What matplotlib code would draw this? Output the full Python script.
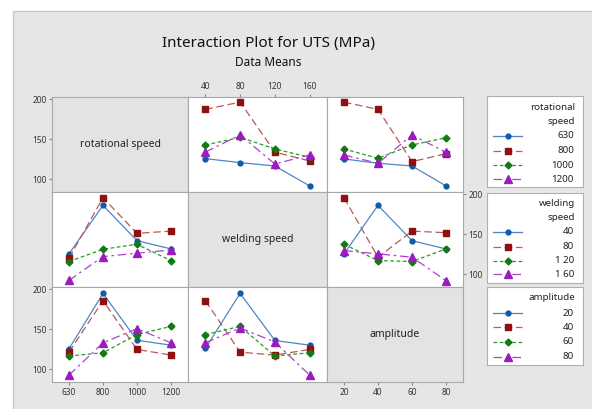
import numpy as np
import matplotlib.pyplot as plt
from matplotlib.patches import Rectangle

plt.rcParams['font.family'] = ['Noto Sans', 'DejaVu Sans']

# factor levels
rot_levels = ['630', '800', '1000', '1200']
weld_levels = ['40', '80', '120', '160']
amp_levels = ['20', '40', '60', '80']
factor_names = ['rotational speed', 'welding speed', 'amplitude']
legend_titles = ['rotational\nspeed', 'welding\nspeed', 'amplitude']
legend_labels = [rot_levels, ['40', '80', '1 20', '1 60'], amp_levels]

# UTS means: rows = line levels, cols = x-axis levels
rot_vs_weld = [[125.8, 120.8, 116.6, 91.6],
               [187.5, 196.6, 134.0, 122.9],
               [142.9, 152.5, 137.9, 127.5],
               [134.0, 155.4, 119.1, 130.4]]
rot_vs_amp = [[125.4, 120.0, 116.6, 91.6],
              [196.6, 187.5, 122.0, 132.0],
              [137.9, 126.2, 142.9, 152.0],
              [130.4, 120.0, 155.4, 133.8]]
weld_vs_rot = [[125.5, 186.3, 142.0, 131.7],
               [120.1, 195.9, 151.2, 154.0],
               [115.9, 131.3, 137.5, 117.1],
               [92.3, 122.1, 126.3, 130.4]]
weld_vs_amp = [[125.5, 186.3, 142.0, 131.7],
               [195.9, 121.3, 154.0, 152.0],
               [137.5, 117.1, 115.9, 131.7],
               [129.6, 125.5, 121.3, 92.0]]
amp_vs_rot = [[125.6, 195.0, 136.3, 130.1],
              [121.4, 185.9, 124.8, 117.7],
              [116.5, 120.7, 143.4, 153.7],
              [92.6, 133.1, 150.8, 133.1]]
amp_vs_weld = [[126.0, 195.0, 136.0, 130.1],
               [185.9, 121.4, 117.7, 124.8],
               [143.4, 153.7, 116.5, 120.7],
               [133.1, 151.7, 134.1, 92.6]]

panels = {(0, 1): rot_vs_weld, (0, 2): rot_vs_amp,
          (1, 0): weld_vs_rot, (1, 2): weld_vs_amp,
          (2, 0): amp_vs_rot, (2, 1): amp_vs_weld}

styles = [dict(color='#4f86c6', ls='-', marker='o', ms=3.5, mfc='#0f5aaa', mec='#0f5aaa'),
          dict(color='#b85a5a', ls=(0, (6, 3)), marker='s', ms=4, mfc='#900f0f', mec='#900f0f'),
          dict(color='#2a9a2a', ls=(0, (3, 2)), marker='D', ms=3.5, mfc='#127a12', mec='#127a12'),
          dict(color='#b040d0', ls=(0, (7, 3, 2, 3)), marker='^', ms=6, mfc='#9a1cbf', mec='#9a1cbf')]

W, H = 592, 409
fig = plt.figure(figsize=(W / 100, H / 100), dpi=100)
fig.patches.append(Rectangle((13 / W, -0.01), 1.0, 1 - 11 / H + 0.01, transform=fig.transFigure,
                             facecolor='#e6e6e6', edgecolor='#c8c8c8', lw=1, zorder=-10))


def px_axes(x0, y0, x1, y1):
    return fig.add_axes([x0 / W, 1 - y1 / H, (x1 - x0) / W, (y1 - y0) / H])


col_x = [52, 188, 327, 463]
row_y = [97, 192, 287, 382]
ylim = (84, 203)
x = np.arange(4)
tick_kw = dict(labelsize=6, length=2.5, color='#888888', labelcolor='#333333', pad=1.5)

axes = {}
for i in range(3):
    for j in range(3):
        ax = px_axes(col_x[j], row_y[i], col_x[j + 1], row_y[i + 1])
        ax.set_xlim(-0.5, 3.5)
        ax.set_ylim(*ylim)
        for s in ax.spines.values():
            s.set_color('#a8a8a8')
            s.set_linewidth(0.8)
        ax.tick_params(left=False, bottom=False, labelleft=False, labelbottom=False, **tick_kw)
        ax.set_yticks([100, 150, 200])
        if i == j:
            ax.set_facecolor('#e3e3e3')
            ax.text(0.5, 0.5, factor_names[i], transform=ax.transAxes, ha='center', va='center',
                    fontsize=7.5, color='#222222')
        else:
            ax.set_facecolor('white')
            for k, vals in enumerate(panels[(i, j)]):
                ax.plot(x, vals, lw=0.9, **styles[k])
        axes[(i, j)] = ax

# axis ticks, alternating like Minitab
axes[(0, 0)].tick_params(left=True, labelleft=True)
axes[(2, 0)].tick_params(left=True, labelleft=True)
axes[(1, 2)].tick_params(right=True, labelright=True)
axes[(2, 0)].set_xticks(x, rot_levels)
axes[(2, 0)].tick_params(bottom=True, labelbottom=True)
axes[(0, 1)].set_xticks(x, weld_levels)
axes[(0, 1)].tick_params(top=True, labeltop=True)
axes[(2, 2)].set_xticks(x, amp_levels)
axes[(2, 2)].tick_params(bottom=True, labelbottom=True)

# legends
boxes = [(96, 187), (193, 283), (287, 365)]
title_rows = [[107, 122], [204, 217], [298]]
entry_rows = [[136, 150.7, 165, 179], [232, 246.7, 260.7, 274.3], [313, 327, 341.7, 356.7]]
for b in range(3):
    y0, y1 = boxes[b]
    lax = px_axes(487, y0, 583, y1)
    lax.set_xlim(487, 583)
    lax.set_ylim(y1, y0)
    lax.set_xticks([])
    lax.set_yticks([])
    lax.set_facecolor('white')
    for s in lax.spines.values():
        s.set_color('#b0b0b0')
        s.set_linewidth(0.8)
    for t, ty in zip(legend_titles[b].split('\n'), title_rows[b]):
        lax.text(575, ty, t, ha='right', va='center', fontsize=7, color='#222222')
    for k, ey in enumerate(entry_rows[b]):
        st = dict(styles[k])
        lax.plot([492.7, 522], [ey, ey], lw=0.9, color=st['color'], ls=st['ls'])
        lax.plot([507.7], [ey], ls='none', marker=st['marker'], ms=st['ms'], mfc=st['mfc'], mec=st['mec'])
        lax.text(574, ey, legend_labels[b][k], ha='right', va='center', fontsize=7, color='#222222')

fig.text(268 / W, 1 - 43 / H, 'Interaction Plot for UTS (MPa)', ha='center', va='center',
         fontsize=11, color='#111111')
fig.text(268 / W, 1 - 62 / H, 'Data Means', ha='center', va='center', fontsize=8.5, color='#111111')

fig.savefig('out.png', dpi=100)
